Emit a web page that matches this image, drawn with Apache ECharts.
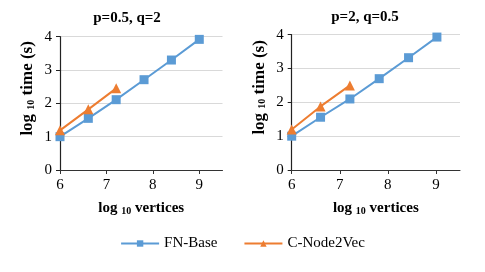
<!DOCTYPE html>
<html><head><meta charset="utf-8">
<script src="https://cdn.jsdelivr.net/npm/echarts@6/dist/echarts.min.js"></script>
<style>html,body{margin:0;padding:0;background:#fff}#c{width:485px;height:272px}</style>
</head><body><div id="c"></div>
<script>
const titles = ['p=0.5, q=2', 'p=2, q=0.5'];
const seriesNames = ['FN-Base', 'C-Node2Vec'];
// left panel
const fnX1 = [6, 6.61, 7.21, 7.81, 8.40, 9.0];
const fnY1 = [1.0, 1.55, 2.11, 2.71, 3.3, 3.92];
const cnX1 = [6, 6.61, 7.21];
const cnY1 = [1.19, 1.82, 2.45];
// right panel
const fnX2 = [6, 6.6, 7.21, 7.82, 8.43, 9.02];
const fnY2 = [1.0, 1.56, 2.1, 2.7, 3.32, 3.93];
const cnX2 = [6, 6.6, 7.21];
const cnY2 = [1.2, 1.88, 2.5];
const xTicks = [6, 7, 8, 9];
const yTicks = [0, 1, 2, 3, 4];

const colors = ['#5b9bd5', '#ed7d31'];
const font = '"Liberation Serif", "Times New Roman", serif';
const zip = (xs, ys) => xs.map((x, i) => [x, ys[i]]);

const grids = [
  {left: 60, right: 262.5, top: 36.7, bottom: 102},
  {left: 291.7, right: 25, top: 34.7, bottom: 102}
];
function rich(sz) {
  return {
    b: {fontFamily: font, fontWeight: 'bold', fontSize: sz, color: '#000'},
    s: {fontFamily: font, fontWeight: 'bold', fontSize: 10, color: '#000', verticalAlign: 'bottom', padding: [6, 0, 0, 0]},
    n: {fontFamily: font, fontWeight: 'normal', fontSize: 15, color: '#000'}
  };
}
function xAxis(i) {
  return {
    type: 'value', gridIndex: i, min: 6, max: 9.5, interval: 1,
    name: '{b|log }{s|10}{b| vertices}', nameLocation: 'middle', nameGap: 30,
    nameTextStyle: {fontFamily: font, rich: rich(15)},
    axisLine: {lineStyle: {color: '#333', width: 1}},
    axisTick: {show: true, length: 4, lineStyle: {color: '#333'},
      customValues: xTicks},
    axisLabel: {fontFamily: font, fontSize: 15, color: '#000', margin: 8,
      customValues: xTicks, rich: rich(15),
      formatter: v => Number.isInteger(v) ? '{n|' + v + '}' : ''},
    splitLine: {show: false}
  };
}
function yAxis(i) {
  return {
    type: 'value', gridIndex: i, min: 0, max: 4, interval: 1,
    name: '{b|log }{s|10}{b| time (s)}', nameLocation: 'middle', nameGap: 24, nameRotate: 90,
    nameTextStyle: {fontFamily: font, rich: rich(17), padding: [0, 0, 0, 30]},
    axisLine: {show: true, lineStyle: {color: '#222', width: 1.2}},
    axisTick: {show: true, length: 4, lineStyle: {color: '#222'}},
    axisLabel: {fontFamily: font, fontSize: 15, color: '#000', margin: 8, rich: rich(15),
      formatter: v => '{n|' + v + '}'},
    splitLine: {show: true, lineStyle: {color: '#d9d9d9', width: 1.2}}
  };
}
function mk(name, data, i, sym, color, size) {
  return {
    name, type: 'line', xAxisIndex: i, yAxisIndex: i, data,
    symbol: sym, symbolSize: size, color,
    lineStyle: {color, width: 2}, itemStyle: {color},
    animation: false
  };
}
const chart = echarts.init(document.getElementById('c'));
chart.setOption({
  animation: false,
  textStyle: {fontFamily: font},
  title: [
    {text: '{t|' + titles[0] + '}', left: 122, top: 6, textAlign: 'center',
     textStyle: {rich: {t: {fontFamily: font, fontWeight: 'bold', fontSize: 15, color: '#000'}}}},
    {text: '{t|' + titles[1] + '}', left: 360, top: 5, textAlign: 'center',
     textStyle: {rich: {t: {fontFamily: font, fontWeight: 'bold', fontSize: 15, color: '#000'}}}}
  ],
  legend: {
    data: seriesNames, top: 231, left: 'center', itemWidth: 38, itemHeight: 8, itemGap: 26,
    formatter: n => '{n|' + n + '}',
    textStyle: {fontFamily: font, fontSize: 15, color: '#000', rich: rich(15)}
  },
  grid: grids,
  xAxis: [xAxis(0), xAxis(1)],
  yAxis: [yAxis(0), yAxis(1)],
  series: [
    mk(seriesNames[0], zip(fnX1, fnY1), 0, 'rect', colors[0], 9),
    mk(seriesNames[1], zip(cnX1, cnY1), 0, 'triangle', colors[1], 10),
    mk(seriesNames[0], zip(fnX2, fnY2), 1, 'rect', colors[0], 9),
    mk(seriesNames[1], zip(cnX2, cnY2), 1, 'triangle', colors[1], 10)
  ]
});
</script></body></html>
